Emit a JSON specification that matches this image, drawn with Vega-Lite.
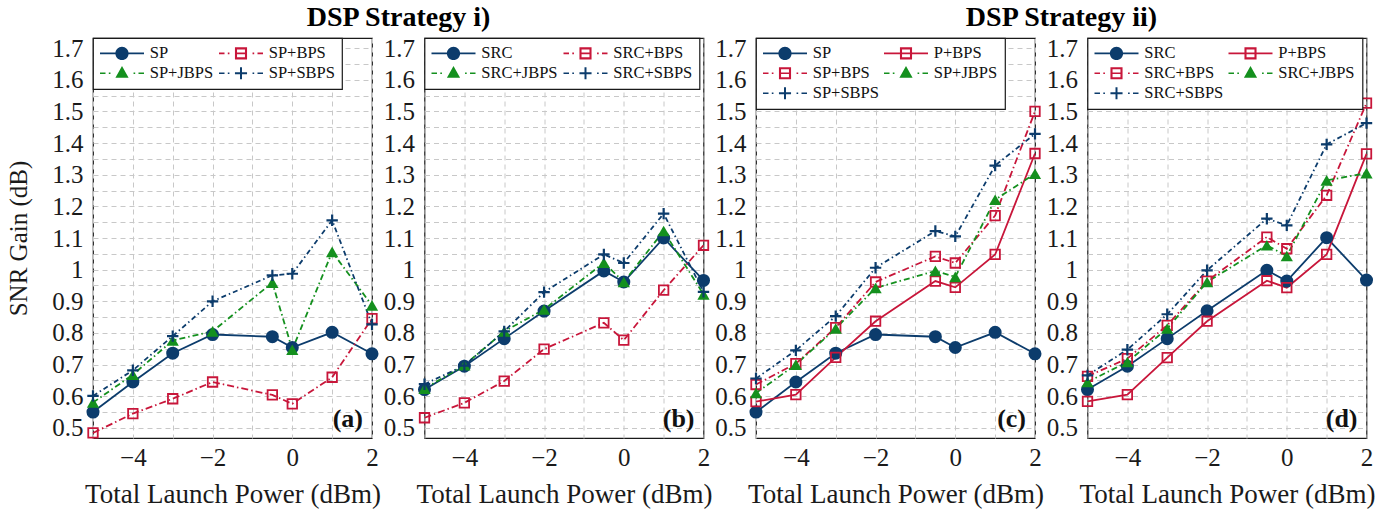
{
  "$schema": "https://vega.github.io/schema/vega-lite/v6.json",
  "padding": {"left": 6, "top": 3, "right": 5, "bottom": 5},
  "data": {"values": [
    {"panel":"a","series":"SP","x":-5,"y":0.55},{"panel":"a","series":"SP","x":-4,"y":0.645},{"panel":"a","series":"SP","x":-3,"y":0.736},{"panel":"a","series":"SP","x":-2,"y":0.795},{"panel":"a","series":"SP","x":-0.5,"y":0.788},{"panel":"a","series":"SP","x":0,"y":0.754},{"panel":"a","series":"SP","x":1,"y":0.802},{"panel":"a","series":"SP","x":2,"y":0.734},
    {"panel":"a","series":"SP+BPS","x":-5,"y":0.484},{"panel":"a","series":"SP+BPS","x":-4,"y":0.545},{"panel":"a","series":"SP+BPS","x":-3,"y":0.592},{"panel":"a","series":"SP+BPS","x":-2,"y":0.645},{"panel":"a","series":"SP+BPS","x":-0.5,"y":0.604},{"panel":"a","series":"SP+BPS","x":0,"y":0.576},{"panel":"a","series":"SP+BPS","x":1,"y":0.66},{"panel":"a","series":"SP+BPS","x":2,"y":0.845},
    {"panel":"a","series":"SP+JBPS","x":-5,"y":0.58},{"panel":"a","series":"SP+JBPS","x":-4,"y":0.668},{"panel":"a","series":"SP+JBPS","x":-3,"y":0.776},{"panel":"a","series":"SP+JBPS","x":-2,"y":0.805},{"panel":"a","series":"SP+JBPS","x":-0.5,"y":0.959},{"panel":"a","series":"SP+JBPS","x":0,"y":0.747},{"panel":"a","series":"SP+JBPS","x":1,"y":1.056},{"panel":"a","series":"SP+JBPS","x":2,"y":0.887},
    {"panel":"a","series":"SP+SBPS","x":-5,"y":0.601},{"panel":"a","series":"SP+SBPS","x":-4,"y":0.682},{"panel":"a","series":"SP+SBPS","x":-3,"y":0.79},{"panel":"a","series":"SP+SBPS","x":-2,"y":0.9},{"panel":"a","series":"SP+SBPS","x":-0.5,"y":0.982},{"panel":"a","series":"SP+SBPS","x":0,"y":0.987},{"panel":"a","series":"SP+SBPS","x":1,"y":1.156},{"panel":"a","series":"SP+SBPS","x":2,"y":0.827},

    {"panel":"b","series":"SRC","x":-5,"y":0.621},{"panel":"b","series":"SRC","x":-4,"y":0.695},{"panel":"b","series":"SRC","x":-3,"y":0.782},{"panel":"b","series":"SRC","x":-2,"y":0.869},{"panel":"b","series":"SRC","x":-0.5,"y":0.996},{"panel":"b","series":"SRC","x":0,"y":0.961},{"panel":"b","series":"SRC","x":1,"y":1.1},{"panel":"b","series":"SRC","x":2,"y":0.966},
    {"panel":"b","series":"SRC+BPS","x":-5,"y":0.532},{"panel":"b","series":"SRC+BPS","x":-4,"y":0.579},{"panel":"b","series":"SRC+BPS","x":-3,"y":0.648},{"panel":"b","series":"SRC+BPS","x":-2,"y":0.749},{"panel":"b","series":"SRC+BPS","x":-0.5,"y":0.832},{"panel":"b","series":"SRC+BPS","x":0,"y":0.777},{"panel":"b","series":"SRC+BPS","x":1,"y":0.935},{"panel":"b","series":"SRC+BPS","x":2,"y":1.077},
    {"panel":"b","series":"SRC+JBPS","x":-5,"y":0.624},{"panel":"b","series":"SRC+JBPS","x":-4,"y":0.698},{"panel":"b","series":"SRC+JBPS","x":-3,"y":0.805},{"panel":"b","series":"SRC+JBPS","x":-2,"y":0.874},{"panel":"b","series":"SRC+JBPS","x":-0.5,"y":1.022},{"panel":"b","series":"SRC+JBPS","x":0,"y":0.961},{"panel":"b","series":"SRC+JBPS","x":1,"y":1.122},{"panel":"b","series":"SRC+JBPS","x":2,"y":0.922},
    {"panel":"b","series":"SRC+SBPS","x":-5,"y":0.638},{"panel":"b","series":"SRC+SBPS","x":-4,"y":0.697},{"panel":"b","series":"SRC+SBPS","x":-3,"y":0.805},{"panel":"b","series":"SRC+SBPS","x":-2,"y":0.929},{"panel":"b","series":"SRC+SBPS","x":-0.5,"y":1.048},{"panel":"b","series":"SRC+SBPS","x":0,"y":1.021},{"panel":"b","series":"SRC+SBPS","x":1,"y":1.177},{"panel":"b","series":"SRC+SBPS","x":2,"y":0.93},

    {"panel":"c","series":"SP","x":-5,"y":0.55},{"panel":"c","series":"SP","x":-4,"y":0.645},{"panel":"c","series":"SP","x":-3,"y":0.736},{"panel":"c","series":"SP","x":-2,"y":0.795},{"panel":"c","series":"SP","x":-0.5,"y":0.788},{"panel":"c","series":"SP","x":0,"y":0.754},{"panel":"c","series":"SP","x":1,"y":0.802},{"panel":"c","series":"SP","x":2,"y":0.734},
    {"panel":"c","series":"P+BPS","x":-5,"y":0.583},{"panel":"c","series":"P+BPS","x":-4,"y":0.605},{"panel":"c","series":"P+BPS","x":-3,"y":0.723},{"panel":"c","series":"P+BPS","x":-2,"y":0.837},{"panel":"c","series":"P+BPS","x":-0.5,"y":0.964},{"panel":"c","series":"P+BPS","x":0,"y":0.944},{"panel":"c","series":"P+BPS","x":1,"y":1.048},{"panel":"c","series":"P+BPS","x":2,"y":1.367},
    {"panel":"c","series":"SP+BPS","x":-5,"y":0.637},{"panel":"c","series":"SP+BPS","x":-4,"y":0.703},{"panel":"c","series":"SP+BPS","x":-3,"y":0.817},{"panel":"c","series":"SP+BPS","x":-2,"y":0.961},{"panel":"c","series":"SP+BPS","x":-0.5,"y":1.042},{"panel":"c","series":"SP+BPS","x":0,"y":1.021},{"panel":"c","series":"SP+BPS","x":1,"y":1.171},{"panel":"c","series":"SP+BPS","x":2,"y":1.5},
    {"panel":"c","series":"SP+JBPS","x":-5,"y":0.61},{"panel":"c","series":"SP+JBPS","x":-4,"y":0.7},{"panel":"c","series":"SP+JBPS","x":-3,"y":0.814},{"panel":"c","series":"SP+JBPS","x":-2,"y":0.942},{"panel":"c","series":"SP+JBPS","x":-0.5,"y":0.996},{"panel":"c","series":"SP+JBPS","x":0,"y":0.977},{"panel":"c","series":"SP+JBPS","x":1,"y":1.221},{"panel":"c","series":"SP+JBPS","x":2,"y":1.303},
    {"panel":"c","series":"SP+SBPS","x":-5,"y":0.656},{"panel":"c","series":"SP+SBPS","x":-4,"y":0.745},{"panel":"c","series":"SP+SBPS","x":-3,"y":0.853},{"panel":"c","series":"SP+SBPS","x":-2,"y":1.006},{"panel":"c","series":"SP+SBPS","x":-0.5,"y":1.122},{"panel":"c","series":"SP+SBPS","x":0,"y":1.105},{"panel":"c","series":"SP+SBPS","x":1,"y":1.329},{"panel":"c","series":"SP+SBPS","x":2,"y":1.429},

    {"panel":"d","series":"SRC","x":-5,"y":0.621},{"panel":"d","series":"SRC","x":-4,"y":0.695},{"panel":"d","series":"SRC","x":-3,"y":0.782},{"panel":"d","series":"SRC","x":-2,"y":0.87},{"panel":"d","series":"SRC","x":-0.5,"y":0.998},{"panel":"d","series":"SRC","x":0,"y":0.964},{"panel":"d","series":"SRC","x":1,"y":1.101},{"panel":"d","series":"SRC","x":2,"y":0.967},
    {"panel":"d","series":"P+BPS","x":-5,"y":0.584},{"panel":"d","series":"P+BPS","x":-4,"y":0.605},{"panel":"d","series":"P+BPS","x":-3,"y":0.722},{"panel":"d","series":"P+BPS","x":-2,"y":0.837},{"panel":"d","series":"P+BPS","x":-0.5,"y":0.965},{"panel":"d","series":"P+BPS","x":0,"y":0.943},{"panel":"d","series":"P+BPS","x":1,"y":1.048},{"panel":"d","series":"P+BPS","x":2,"y":1.366},
    {"panel":"d","series":"SRC+BPS","x":-5,"y":0.663},{"panel":"d","series":"SRC+BPS","x":-4,"y":0.719},{"panel":"d","series":"SRC+BPS","x":-3,"y":0.824},{"panel":"d","series":"SRC+BPS","x":-2,"y":0.964},{"panel":"d","series":"SRC+BPS","x":-0.5,"y":1.103},{"panel":"d","series":"SRC+BPS","x":0,"y":1.066},{"panel":"d","series":"SRC+BPS","x":1,"y":1.235},{"panel":"d","series":"SRC+BPS","x":2,"y":1.526},
    {"panel":"d","series":"SRC+JBPS","x":-5,"y":0.645},{"panel":"d","series":"SRC+JBPS","x":-4,"y":0.708},{"panel":"d","series":"SRC+JBPS","x":-3,"y":0.814},{"panel":"d","series":"SRC+JBPS","x":-2,"y":0.961},{"panel":"d","series":"SRC+JBPS","x":-0.5,"y":1.077},{"panel":"d","series":"SRC+JBPS","x":0,"y":1.043},{"panel":"d","series":"SRC+JBPS","x":1,"y":1.282},{"panel":"d","series":"SRC+JBPS","x":2,"y":1.305},
    {"panel":"d","series":"SRC+SBPS","x":-5,"y":0.666},{"panel":"d","series":"SRC+SBPS","x":-4,"y":0.747},{"panel":"d","series":"SRC+SBPS","x":-3,"y":0.859},{"panel":"d","series":"SRC+SBPS","x":-2,"y":0.998},{"panel":"d","series":"SRC+SBPS","x":-0.5,"y":1.161},{"panel":"d","series":"SRC+SBPS","x":0,"y":1.14},{"panel":"d","series":"SRC+SBPS","x":1,"y":1.396},{"panel":"d","series":"SRC+SBPS","x":2,"y":1.463}
  ]},
  "spacing": 52.5,
  "bounds": "flush",
  "resolve": {
    "scale": {"x": "independent", "y": "independent", "color": "independent", "shape": "independent"},
    "legend": {"color": "independent", "shape": "independent"}
  },
  "hconcat": [
    {
      "width": 279, "height": 400,
      "title": {"text": "DSP Strategy i)", "dx": 166},
      "transform": [{"filter": "datum.panel == 'a'"}],
      "encoding": {
        "x": {"field": "x", "type": "quantitative", "scale": {"domain": [-5, 2], "nice": false, "zero": false},
              "axis": {"title": "Total Launch Power (dBm)", "values": [-5,-4,-3,-2,-1,0,1,2], "format": "d", "labelExpr": "datum.value % 2 == 0 ? datum.label : ''"}},
        "y": {"field": "y", "type": "quantitative", "scale": {"domain": [0.468, 1.732], "nice": false, "zero": false},
              "axis": {"title": "SNR Gain (dB)", "values": [0.5,0.55,0.6,0.65,0.7,0.75,0.8,0.85,0.9,0.95,1,1.05,1.1,1.15,1.2,1.25,1.3,1.35,1.4,1.45,1.5,1.55,1.6,1.65,1.7], "labelExpr": "round(datum.value*20) % 2 == 0 ? format(datum.value, '~g') : ''"}}
      },
      "layer": [
        {"transform": [{"filter": {"field": "series", "equal": "SP"}}], "mark": {"type": "line", "color": "#0c3c6c", "strokeWidth": 1.8}, "encoding": {}},
        {"transform": [{"filter": {"field": "series", "equal": "SP+BPS"}}], "mark": {"type": "line", "color": "#c8163a", "strokeWidth": 1.8, "strokeDash": [7,3,1.5,3]}, "encoding": {}},
        {"transform": [{"filter": {"field": "series", "equal": "SP+JBPS"}}], "mark": {"type": "line", "color": "#14901e", "strokeWidth": 1.8, "strokeDash": [6,3,1.5,3]}, "encoding": {}},
        {"transform": [{"filter": {"field": "series", "equal": "SP+SBPS"}}], "mark": {"type": "line", "color": "#0c3c6c", "strokeWidth": 1.8, "strokeDash": [5,3,1.5,3]}, "encoding": {}},
        {"transform": [{"filter": {"field": "series", "oneOf": ["SP"]}}], "mark": {"type": "point", "shape": "circle", "filled": true, "opacity": 1, "size": 170, "color": "#0c3c6c"}, "encoding": {}},
        {"transform": [{"filter": {"field": "series", "oneOf": ["SP+BPS"]}}], "mark": {"type": "point", "shape": "square", "filled": false, "opacity": 1, "size": 90, "strokeWidth": 1.8, "color": "#c8163a"}, "encoding": {}},
        {"transform": [{"filter": {"field": "series", "oneOf": ["SP+JBPS"]}}], "mark": {"type": "point", "shape": "triangle-up", "filled": true, "opacity": 1, "size": 150, "color": "#14901e"}, "encoding": {}},
        {"transform": [{"filter": {"field": "series", "oneOf": ["SP+SBPS"]}}], "mark": {"type": "point", "shape": "M-1,0L1,0M0,-1L0,1", "filled": false, "opacity": 1, "size": 130, "strokeWidth": 2.2, "color": "#0c3c6c"}, "encoding": {}},
        {"transform": [{"filter": "false"}],
         "mark": {"type": "point", "filled": true, "opacity": 1},
         "encoding": {
           "color": {"field": "series", "type": "nominal", "scale": {"domain": ["SP","SP+BPS","SP+JBPS","SP+SBPS"], "range": ["#0c3c6c","#c8163a","#14901e","#0c3c6c"]}, "legend": {"title": null, "direction": "horizontal", "columns": 2}},
           "shape": {"field": "series", "type": "nominal", "scale": {"domain": ["SP","SP+BPS","SP+JBPS","SP+SBPS"], "range": [
             "M-4,-0.15L4,-0.15L4,0.15L-4,0.15Z M-1.2,0A1.2,1.2 0 1,1 1.2,0A1.2,1.2 0 1,1 -1.2,0Z",
             "M-4,-0.15L-3,-0.15L-3,0.15L-4,0.15Z M-2.4,-0.15L-2.1,-0.15L-2.1,0.15L-2.4,0.15Z M2.1,-0.15L2.4,-0.15L2.4,0.15L2.1,0.15Z M3,-0.15L4,-0.15L4,0.15L3,0.15Z M-1.1,-1.1L1.1,-1.1L1.1,1.1L-1.1,1.1Z M-0.72,-0.72L-0.72,0.72L0.72,0.72L0.72,-0.72Z M-0.72,-0.15L0.72,-0.15L0.72,0.15L-0.72,0.15Z",
             "M-4,-0.15L-3,-0.15L-3,0.15L-4,0.15Z M-2.4,-0.15L-2.1,-0.15L-2.1,0.15L-2.4,0.15Z M2.1,-0.15L2.4,-0.15L2.4,0.15L2.1,0.15Z M3,-0.15L4,-0.15L4,0.15L3,0.15Z M0,-1.3L1.2,0.8L-1.2,0.8Z",
             "M-4,-0.15L-3,-0.15L-3,0.15L-4,0.15Z M-2.4,-0.15L-2.1,-0.15L-2.1,0.15L-2.4,0.15Z M2.1,-0.15L2.4,-0.15L2.4,0.15L2.1,0.15Z M3,-0.15L4,-0.15L4,0.15L3,0.15Z M-1.1,-0.18L1.1,-0.18L1.1,0.18L-1.1,0.18Z M-0.18,-1.1L0.18,-1.1L0.18,1.1L-0.18,1.1Z"
           ]}, "legend": {"title": null, "direction": "horizontal", "columns": 2}}}},
        {"transform": [{"filter": "datum.series == 'SP' && datum.x == 2"}],
         "mark": {"type": "text", "text": "(a)", "align": "right", "baseline": "alphabetic", "dx": -9, "dy": -11, "fontSize": 26, "fontWeight": "bold", "font": "Liberation Serif", "color": "#111"},
         "encoding": {"x": {"datum": 2, "type": "quantitative"}, "y": {"datum": 0.468, "type": "quantitative"}}}
      ]
    },
    {
      "width": 279, "height": 400,
      "transform": [{"filter": "datum.panel == 'b'"}],
      "encoding": {
        "x": {"field": "x", "type": "quantitative", "scale": {"domain": [-5, 2], "nice": false, "zero": false},
              "axis": {"title": "Total Launch Power (dBm)", "values": [-5,-4,-3,-2,-1,0,1,2], "format": "d", "labelExpr": "datum.value % 2 == 0 ? datum.label : ''"}},
        "y": {"field": "y", "type": "quantitative", "scale": {"domain": [0.468, 1.732], "nice": false, "zero": false},
              "axis": {"title": null, "values": [0.5,0.55,0.6,0.65,0.7,0.75,0.8,0.85,0.9,0.95,1,1.05,1.1,1.15,1.2,1.25,1.3,1.35,1.4,1.45,1.5,1.55,1.6,1.65,1.7], "labelExpr": "round(datum.value*20) % 2 == 0 ? format(datum.value, '~g') : ''"}}
      },
      "layer": [
        {"transform": [{"filter": {"field": "series", "equal": "SRC"}}], "mark": {"type": "line", "color": "#0c3c6c", "strokeWidth": 1.8}, "encoding": {}},
        {"transform": [{"filter": {"field": "series", "equal": "SRC+BPS"}}], "mark": {"type": "line", "color": "#c8163a", "strokeWidth": 1.8, "strokeDash": [7,3,1.5,3]}, "encoding": {}},
        {"transform": [{"filter": {"field": "series", "equal": "SRC+JBPS"}}], "mark": {"type": "line", "color": "#14901e", "strokeWidth": 1.8, "strokeDash": [6,3,1.5,3]}, "encoding": {}},
        {"transform": [{"filter": {"field": "series", "equal": "SRC+SBPS"}}], "mark": {"type": "line", "color": "#0c3c6c", "strokeWidth": 1.8, "strokeDash": [5,3,1.5,3]}, "encoding": {}},
        {"transform": [{"filter": {"field": "series", "oneOf": ["SRC"]}}], "mark": {"type": "point", "shape": "circle", "filled": true, "opacity": 1, "size": 170, "color": "#0c3c6c"}, "encoding": {}},
        {"transform": [{"filter": {"field": "series", "oneOf": ["SRC+BPS"]}}], "mark": {"type": "point", "shape": "square", "filled": false, "opacity": 1, "size": 90, "strokeWidth": 1.8, "color": "#c8163a"}, "encoding": {}},
        {"transform": [{"filter": {"field": "series", "oneOf": ["SRC+JBPS"]}}], "mark": {"type": "point", "shape": "triangle-up", "filled": true, "opacity": 1, "size": 150, "color": "#14901e"}, "encoding": {}},
        {"transform": [{"filter": {"field": "series", "oneOf": ["SRC+SBPS"]}}], "mark": {"type": "point", "shape": "M-1,0L1,0M0,-1L0,1", "filled": false, "opacity": 1, "size": 130, "strokeWidth": 2.2, "color": "#0c3c6c"}, "encoding": {}},
        {"transform": [{"filter": "false"}],
         "mark": {"type": "point", "filled": true, "opacity": 1},
         "encoding": {
           "color": {"field": "series", "type": "nominal", "scale": {"domain": ["SRC","SRC+BPS","SRC+JBPS","SRC+SBPS"], "range": ["#0c3c6c","#c8163a","#14901e","#0c3c6c"]}, "legend": {"title": null, "direction": "horizontal", "columns": 2}},
           "shape": {"field": "series", "type": "nominal", "scale": {"domain": ["SRC","SRC+BPS","SRC+JBPS","SRC+SBPS"], "range": [
             "M-4,-0.15L4,-0.15L4,0.15L-4,0.15Z M-1.2,0A1.2,1.2 0 1,1 1.2,0A1.2,1.2 0 1,1 -1.2,0Z",
             "M-4,-0.15L-3,-0.15L-3,0.15L-4,0.15Z M-2.4,-0.15L-2.1,-0.15L-2.1,0.15L-2.4,0.15Z M2.1,-0.15L2.4,-0.15L2.4,0.15L2.1,0.15Z M3,-0.15L4,-0.15L4,0.15L3,0.15Z M-1.1,-1.1L1.1,-1.1L1.1,1.1L-1.1,1.1Z M-0.72,-0.72L-0.72,0.72L0.72,0.72L0.72,-0.72Z M-0.72,-0.15L0.72,-0.15L0.72,0.15L-0.72,0.15Z",
             "M-4,-0.15L-3,-0.15L-3,0.15L-4,0.15Z M-2.4,-0.15L-2.1,-0.15L-2.1,0.15L-2.4,0.15Z M2.1,-0.15L2.4,-0.15L2.4,0.15L2.1,0.15Z M3,-0.15L4,-0.15L4,0.15L3,0.15Z M0,-1.3L1.2,0.8L-1.2,0.8Z",
             "M-4,-0.15L-3,-0.15L-3,0.15L-4,0.15Z M-2.4,-0.15L-2.1,-0.15L-2.1,0.15L-2.4,0.15Z M2.1,-0.15L2.4,-0.15L2.4,0.15L2.1,0.15Z M3,-0.15L4,-0.15L4,0.15L3,0.15Z M-1.1,-0.18L1.1,-0.18L1.1,0.18L-1.1,0.18Z M-0.18,-1.1L0.18,-1.1L0.18,1.1L-0.18,1.1Z"
           ]}, "legend": {"title": null, "direction": "horizontal", "columns": 2}}}},
        {"transform": [{"filter": "datum.series == 'SRC' && datum.x == 2"}],
         "mark": {"type": "text", "text": "(b)", "align": "right", "baseline": "alphabetic", "dx": -9, "dy": -11, "fontSize": 26, "fontWeight": "bold", "font": "Liberation Serif", "color": "#111"},
         "encoding": {"x": {"datum": 2, "type": "quantitative"}, "y": {"datum": 0.468, "type": "quantitative"}}}
      ]
    },
    {
      "width": 279, "height": 400,
      "title": {"text": "DSP Strategy ii)", "dx": 166},
      "transform": [{"filter": "datum.panel == 'c'"}],
      "encoding": {
        "x": {"field": "x", "type": "quantitative", "scale": {"domain": [-5, 2], "nice": false, "zero": false},
              "axis": {"title": "Total Launch Power (dBm)", "values": [-5,-4,-3,-2,-1,0,1,2], "format": "d", "labelExpr": "datum.value % 2 == 0 ? datum.label : ''"}},
        "y": {"field": "y", "type": "quantitative", "scale": {"domain": [0.468, 1.732], "nice": false, "zero": false},
              "axis": {"title": null, "values": [0.5,0.55,0.6,0.65,0.7,0.75,0.8,0.85,0.9,0.95,1,1.05,1.1,1.15,1.2,1.25,1.3,1.35,1.4,1.45,1.5,1.55,1.6,1.65,1.7], "labelExpr": "round(datum.value*20) % 2 == 0 ? format(datum.value, '~g') : ''"}}
      },
      "layer": [
        {"transform": [{"filter": {"field": "series", "equal": "SP"}}], "mark": {"type": "line", "color": "#0c3c6c", "strokeWidth": 1.8}, "encoding": {}},
        {"transform": [{"filter": {"field": "series", "equal": "P+BPS"}}], "mark": {"type": "line", "color": "#c8163a", "strokeWidth": 1.8}, "encoding": {}},
        {"transform": [{"filter": {"field": "series", "equal": "SP+BPS"}}], "mark": {"type": "line", "color": "#c8163a", "strokeWidth": 1.8, "strokeDash": [7,3,1.5,3]}, "encoding": {}},
        {"transform": [{"filter": {"field": "series", "equal": "SP+JBPS"}}], "mark": {"type": "line", "color": "#14901e", "strokeWidth": 1.8, "strokeDash": [6,3,1.5,3]}, "encoding": {}},
        {"transform": [{"filter": {"field": "series", "equal": "SP+SBPS"}}], "mark": {"type": "line", "color": "#0c3c6c", "strokeWidth": 1.8, "strokeDash": [5,3,1.5,3]}, "encoding": {}},
        {"transform": [{"filter": {"field": "series", "oneOf": ["SP"]}}], "mark": {"type": "point", "shape": "circle", "filled": true, "opacity": 1, "size": 170, "color": "#0c3c6c"}, "encoding": {}},
        {"transform": [{"filter": {"field": "series", "oneOf": ["P+BPS", "SP+BPS"]}}], "mark": {"type": "point", "shape": "square", "filled": false, "opacity": 1, "size": 90, "strokeWidth": 1.8, "color": "#c8163a"}, "encoding": {}},
        {"transform": [{"filter": {"field": "series", "oneOf": ["SP+JBPS"]}}], "mark": {"type": "point", "shape": "triangle-up", "filled": true, "opacity": 1, "size": 150, "color": "#14901e"}, "encoding": {}},
        {"transform": [{"filter": {"field": "series", "oneOf": ["SP+SBPS"]}}], "mark": {"type": "point", "shape": "M-1,0L1,0M0,-1L0,1", "filled": false, "opacity": 1, "size": 130, "strokeWidth": 2.2, "color": "#0c3c6c"}, "encoding": {}},
        {"transform": [{"filter": "false"}],
         "mark": {"type": "point", "filled": true, "opacity": 1},
         "encoding": {
           "color": {"field": "series", "type": "nominal", "scale": {"domain": ["SP","P+BPS","SP+BPS","SP+JBPS","SP+SBPS"], "range": ["#0c3c6c","#c8163a","#c8163a","#14901e","#0c3c6c"]}, "legend": {"title": null, "direction": "horizontal", "columns": 2}},
           "shape": {"field": "series", "type": "nominal", "scale": {"domain": ["SP","P+BPS","SP+BPS","SP+JBPS","SP+SBPS"], "range": [
             "M-4,-0.15L4,-0.15L4,0.15L-4,0.15Z M-1.2,0A1.2,1.2 0 1,1 1.2,0A1.2,1.2 0 1,1 -1.2,0Z",
             "M-4,-0.15L4,-0.15L4,0.15L-4,0.15Z M-1.1,-1.1L1.1,-1.1L1.1,1.1L-1.1,1.1Z M-0.72,-0.72L-0.72,0.72L0.72,0.72L0.72,-0.72Z",
             "M-4,-0.15L-3,-0.15L-3,0.15L-4,0.15Z M-2.4,-0.15L-2.1,-0.15L-2.1,0.15L-2.4,0.15Z M2.1,-0.15L2.4,-0.15L2.4,0.15L2.1,0.15Z M3,-0.15L4,-0.15L4,0.15L3,0.15Z M-1.1,-1.1L1.1,-1.1L1.1,1.1L-1.1,1.1Z M-0.72,-0.72L-0.72,0.72L0.72,0.72L0.72,-0.72Z M-0.72,-0.15L0.72,-0.15L0.72,0.15L-0.72,0.15Z",
             "M-4,-0.15L-3,-0.15L-3,0.15L-4,0.15Z M-2.4,-0.15L-2.1,-0.15L-2.1,0.15L-2.4,0.15Z M2.1,-0.15L2.4,-0.15L2.4,0.15L2.1,0.15Z M3,-0.15L4,-0.15L4,0.15L3,0.15Z M0,-1.3L1.2,0.8L-1.2,0.8Z",
             "M-4,-0.15L-3,-0.15L-3,0.15L-4,0.15Z M-2.4,-0.15L-2.1,-0.15L-2.1,0.15L-2.4,0.15Z M2.1,-0.15L2.4,-0.15L2.4,0.15L2.1,0.15Z M3,-0.15L4,-0.15L4,0.15L3,0.15Z M-1.1,-0.18L1.1,-0.18L1.1,0.18L-1.1,0.18Z M-0.18,-1.1L0.18,-1.1L0.18,1.1L-0.18,1.1Z"
           ]}, "legend": {"title": null, "direction": "horizontal", "columns": 2}}}},
        {"transform": [{"filter": "datum.series == 'SP' && datum.x == 2"}],
         "mark": {"type": "text", "text": "(c)", "align": "right", "baseline": "alphabetic", "dx": -9, "dy": -11, "fontSize": 26, "fontWeight": "bold", "font": "Liberation Serif", "color": "#111"},
         "encoding": {"x": {"datum": 2, "type": "quantitative"}, "y": {"datum": 0.468, "type": "quantitative"}}}
      ]
    },
    {
      "width": 279, "height": 400,
      "transform": [{"filter": "datum.panel == 'd'"}],
      "encoding": {
        "x": {"field": "x", "type": "quantitative", "scale": {"domain": [-5, 2], "nice": false, "zero": false},
              "axis": {"title": "Total Launch Power (dBm)", "values": [-5,-4,-3,-2,-1,0,1,2], "format": "d", "labelExpr": "datum.value % 2 == 0 ? datum.label : ''"}},
        "y": {"field": "y", "type": "quantitative", "scale": {"domain": [0.468, 1.732], "nice": false, "zero": false},
              "axis": {"title": null, "values": [0.5,0.55,0.6,0.65,0.7,0.75,0.8,0.85,0.9,0.95,1,1.05,1.1,1.15,1.2,1.25,1.3,1.35,1.4,1.45,1.5,1.55,1.6,1.65,1.7], "labelExpr": "round(datum.value*20) % 2 == 0 ? format(datum.value, '~g') : ''"}}
      },
      "layer": [
        {"transform": [{"filter": {"field": "series", "equal": "SRC"}}], "mark": {"type": "line", "color": "#0c3c6c", "strokeWidth": 1.8}, "encoding": {}},
        {"transform": [{"filter": {"field": "series", "equal": "P+BPS"}}], "mark": {"type": "line", "color": "#c8163a", "strokeWidth": 1.8}, "encoding": {}},
        {"transform": [{"filter": {"field": "series", "equal": "SRC+BPS"}}], "mark": {"type": "line", "color": "#c8163a", "strokeWidth": 1.8, "strokeDash": [7,3,1.5,3]}, "encoding": {}},
        {"transform": [{"filter": {"field": "series", "equal": "SRC+JBPS"}}], "mark": {"type": "line", "color": "#14901e", "strokeWidth": 1.8, "strokeDash": [6,3,1.5,3]}, "encoding": {}},
        {"transform": [{"filter": {"field": "series", "equal": "SRC+SBPS"}}], "mark": {"type": "line", "color": "#0c3c6c", "strokeWidth": 1.8, "strokeDash": [5,3,1.5,3]}, "encoding": {}},
        {"transform": [{"filter": {"field": "series", "oneOf": ["SRC"]}}], "mark": {"type": "point", "shape": "circle", "filled": true, "opacity": 1, "size": 170, "color": "#0c3c6c"}, "encoding": {}},
        {"transform": [{"filter": {"field": "series", "oneOf": ["P+BPS", "SRC+BPS"]}}], "mark": {"type": "point", "shape": "square", "filled": false, "opacity": 1, "size": 90, "strokeWidth": 1.8, "color": "#c8163a"}, "encoding": {}},
        {"transform": [{"filter": {"field": "series", "oneOf": ["SRC+JBPS"]}}], "mark": {"type": "point", "shape": "triangle-up", "filled": true, "opacity": 1, "size": 150, "color": "#14901e"}, "encoding": {}},
        {"transform": [{"filter": {"field": "series", "oneOf": ["SRC+SBPS"]}}], "mark": {"type": "point", "shape": "M-1,0L1,0M0,-1L0,1", "filled": false, "opacity": 1, "size": 130, "strokeWidth": 2.2, "color": "#0c3c6c"}, "encoding": {}},
        {"transform": [{"filter": "false"}],
         "mark": {"type": "point", "filled": true, "opacity": 1},
         "encoding": {
           "color": {"field": "series", "type": "nominal", "scale": {"domain": ["SRC","P+BPS","SRC+BPS","SRC+JBPS","SRC+SBPS"], "range": ["#0c3c6c","#c8163a","#c8163a","#14901e","#0c3c6c"]}, "legend": {"title": null, "direction": "horizontal", "columns": 2}},
           "shape": {"field": "series", "type": "nominal", "scale": {"domain": ["SRC","P+BPS","SRC+BPS","SRC+JBPS","SRC+SBPS"], "range": [
             "M-4,-0.15L4,-0.15L4,0.15L-4,0.15Z M-1.2,0A1.2,1.2 0 1,1 1.2,0A1.2,1.2 0 1,1 -1.2,0Z",
             "M-4,-0.15L4,-0.15L4,0.15L-4,0.15Z M-1.1,-1.1L1.1,-1.1L1.1,1.1L-1.1,1.1Z M-0.72,-0.72L-0.72,0.72L0.72,0.72L0.72,-0.72Z",
             "M-4,-0.15L-3,-0.15L-3,0.15L-4,0.15Z M-2.4,-0.15L-2.1,-0.15L-2.1,0.15L-2.4,0.15Z M2.1,-0.15L2.4,-0.15L2.4,0.15L2.1,0.15Z M3,-0.15L4,-0.15L4,0.15L3,0.15Z M-1.1,-1.1L1.1,-1.1L1.1,1.1L-1.1,1.1Z M-0.72,-0.72L-0.72,0.72L0.72,0.72L0.72,-0.72Z M-0.72,-0.15L0.72,-0.15L0.72,0.15L-0.72,0.15Z",
             "M-4,-0.15L-3,-0.15L-3,0.15L-4,0.15Z M-2.4,-0.15L-2.1,-0.15L-2.1,0.15L-2.4,0.15Z M2.1,-0.15L2.4,-0.15L2.4,0.15L2.1,0.15Z M3,-0.15L4,-0.15L4,0.15L3,0.15Z M0,-1.3L1.2,0.8L-1.2,0.8Z",
             "M-4,-0.15L-3,-0.15L-3,0.15L-4,0.15Z M-2.4,-0.15L-2.1,-0.15L-2.1,0.15L-2.4,0.15Z M2.1,-0.15L2.4,-0.15L2.4,0.15L2.1,0.15Z M3,-0.15L4,-0.15L4,0.15L3,0.15Z M-1.1,-0.18L1.1,-0.18L1.1,0.18L-1.1,0.18Z M-0.18,-1.1L0.18,-1.1L0.18,1.1L-0.18,1.1Z"
           ]}, "legend": {"title": null, "direction": "horizontal", "columns": 2}}}},
        {"transform": [{"filter": "datum.series == 'SRC' && datum.x == 2"}],
         "mark": {"type": "text", "text": "(d)", "align": "right", "baseline": "alphabetic", "dx": -9, "dy": -11, "fontSize": 26, "fontWeight": "bold", "font": "Liberation Serif", "color": "#111"},
         "encoding": {"x": {"datum": 2, "type": "quantitative"}, "y": {"datum": 0.468, "type": "quantitative"}}}
      ]
    }
  ],
  "config": {
    "font": "Liberation Serif",
    "view": {"stroke": "#1a1a1a", "strokeWidth": 1.2},
    "axis": {"labelFont": "Liberation Serif", "labelFontSize": 25, "labelColor": "#1a1a1a", "titleFont": "Liberation Serif", "titleFontSize": 27, "titleFontWeight": "normal", "titleColor": "#1a1a1a", "domain": false, "ticks": false, "gridColor": "#c8c8c8", "gridDash": [5, 4], "gridWidth": 1, "labelPadding": 10, "labelOverlap": false, "labelFlush": false},
    "axisX": {"titlePadding": 11, "labelPadding": 7},
    "axisY": {"titlePadding": 20, "titleFontSize": 25},
    "legend": {"orient": "top-left", "offset": 0, "padding": 7, "strokeColor": "#1a1a1a", "strokeWidth": 1.2, "fillColor": "white", "direction": "horizontal", "columns": 2, "columnPadding": 5, "rowPadding": 3, "labelFont": "Liberation Serif", "labelFontSize": 16.5, "labelColor": "#111", "labelOffset": 19.5, "symbolOffset": 13.75, "symbolSize": 121, "symbolStrokeWidth": 0, "symbolOpacity": 1},
    "title": {"font": "Liberation Serif", "fontSize": 28, "fontWeight": "bold", "color": "#000", "anchor": "middle", "offset": 4}
  }
}
